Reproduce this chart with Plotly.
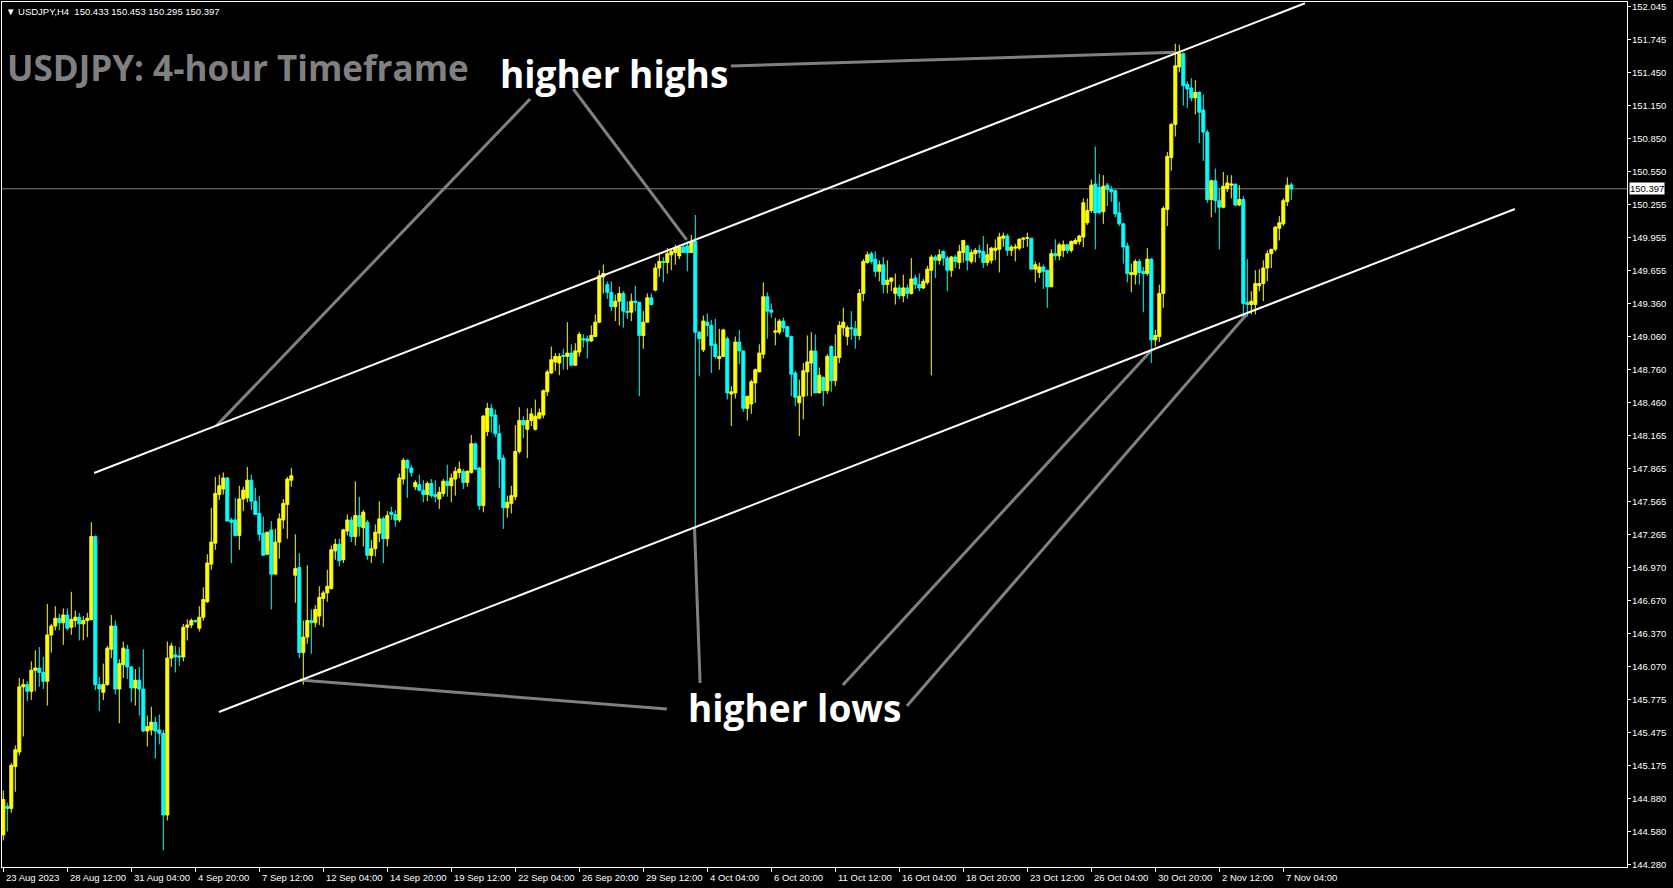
import plotly.graph_objects as go

# ---------------- data (USDJPY H4) ----------------
bar_open = [
 144.55,144.81,144.79,145.17,145.30,145.89,145.91,145.85,146.04,146.06,
 146.02,145.94,146.36,146.44,146.51,146.47,146.54,146.43,146.49,146.52,
 146.46,146.49,146.50,147.25,145.91,145.84,145.91,146.23,146.44,145.87,
 146.09,146.23,146.07,145.88,145.95,145.87,145.49,145.50,145.57,145.50,
 145.47,144.73,146.15,146.18,146.17,146.16,146.43,146.45,146.49,146.42,
 146.52,146.66,147.00,147.19,147.63,147.68,147.78,147.40,147.40,147.26,
 147.59,147.60,147.76,147.57,147.46,147.28,147.09,147.31,146.91,147.20,
 147.40,147.54,147.76,146.90,146.97,146.20,146.34,146.49,146.47,146.53,
 146.69,146.74,146.78,147.12,147.18,147.04,147.30,147.40,147.25,147.44,
 147.33,147.38,147.08,147.14,147.28,147.41,147.23,147.47,147.45,147.40,
 147.77,147.94,147.87,147.70,147.72,147.67,147.63,147.73,147.63,147.59,
 147.64,147.75,147.71,147.77,147.83,147.84,147.74,147.83,148.09,147.87,
 147.53,148.20,148.41,148.35,148.18,147.96,147.51,147.55,147.61,148.02,
 148.30,148.22,148.30,148.22,148.32,148.35,148.56,148.73,148.83,148.82,
 148.89,148.88,148.91,148.80,148.92,149.04,149.04,149.02,149.06,149.19,
 149.60,149.53,149.46,149.33,149.38,149.45,149.29,149.28,149.38,149.37,
 149.07,149.19,149.41,149.48,149.68,149.74,149.73,149.80,149.82,149.79,
 149.87,149.88,149.82,149.92,149.10,148.94,149.19,149.16,148.99,148.86,
 148.88,149.04,148.54,148.55,149.01,148.93,148.41,148.45,148.64,148.74,
 148.90,149.42,149.30,149.10,149.10,149.20,149.15,149.06,148.73,148.46,
 148.52,148.74,148.82,148.93,148.55,148.69,148.57,148.97,148.66,148.87,
 149.14,149.06,149.14,149.13,149.07,149.45,149.73,149.81,149.76,149.65,
 149.71,149.53,149.56,149.45,149.50,149.43,149.50,149.45,149.59,149.53,
 149.50,149.55,149.66,149.78,149.75,149.83,149.77,149.66,149.78,149.73,
 149.82,149.88,149.74,149.81,149.84,149.83,149.73,149.75,149.84,149.85,
 149.95,149.97,149.84,149.86,149.86,149.94,149.95,149.95,149.67,149.64,
 149.69,149.66,149.51,149.81,149.79,149.84,149.89,149.84,149.90,149.92,
 149.96,150.09,150.20,150.44,150.41,150.19,150.43,150.39,150.38,150.18,
 150.08,149.88,149.62,149.62,149.74,149.65,149.63,149.76,149.03,149.06,
 149.45,150.21,150.68,150.98,151.50,151.62,151.34,151.31,151.22,151.27,
 151.11,150.91,150.30,150.47,150.29,150.23,150.40,150.43,150.44,150.25,
 150.30,149.37,149.35,149.35,149.52,149.54,149.68,149.81,149.85,150.04,
 150.08,150.28,150.433]

bar_high = [
 144.95,144.84,145.20,145.36,145.97,145.96,145.94,146.12,146.22,146.25,
 146.16,146.64,146.46,146.62,146.55,146.60,146.60,146.75,146.58,146.56,
 146.53,146.56,147.38,147.26,145.98,146.10,146.26,146.54,146.49,146.14,
 146.30,146.27,146.08,146.05,146.07,146.23,145.63,145.71,145.62,145.64,
 145.50,146.30,146.29,146.26,146.25,146.46,146.50,146.51,146.50,146.62,
 146.79,147.09,147.51,147.79,147.81,147.83,147.79,147.42,147.60,147.71,
 147.70,147.88,147.81,147.69,147.62,147.43,147.29,147.39,147.32,147.46,
 147.59,147.79,147.87,147.27,147.10,146.49,146.99,146.59,146.63,146.80,
 146.76,146.95,147.17,147.23,147.23,147.32,147.45,147.43,147.75,147.61,
 147.49,147.40,147.22,147.36,147.57,147.43,147.48,147.52,147.49,147.82,
 147.96,147.95,147.90,147.76,147.81,147.76,147.75,147.77,147.76,147.70,
 147.77,147.90,147.82,147.88,147.93,147.86,147.85,148.17,148.10,147.88,
 148.35,148.46,148.45,148.40,148.26,147.99,147.62,147.71,148.26,148.42,
 148.34,148.41,148.41,148.49,148.41,148.58,148.76,148.97,148.91,148.91,
 148.95,149.19,148.99,149.00,149.10,149.08,149.07,149.16,149.26,149.66,
 149.71,149.56,149.56,149.44,149.51,149.47,149.38,149.45,149.52,149.37,
 149.29,149.45,149.45,149.72,149.82,149.78,149.86,149.86,149.89,149.89,
 149.89,149.92,149.98,150.16,149.11,149.25,149.27,149.21,149.22,149.13,
 149.13,149.06,148.61,149.06,149.12,148.93,148.52,148.67,148.77,148.99,
 149.55,149.46,149.36,149.23,149.22,149.23,149.15,149.07,148.75,148.67,
 148.82,149.07,149.10,149.08,148.78,148.70,148.90,148.98,149.08,149.20,
 149.32,149.16,149.29,149.20,149.49,149.76,149.83,149.83,149.83,149.75,
 149.78,149.75,149.59,149.63,149.53,149.62,149.53,149.77,149.62,149.63,
 149.58,149.70,149.80,149.80,149.85,149.84,149.79,149.79,149.80,149.89,
 149.93,149.89,149.85,149.86,149.89,149.97,149.90,149.87,149.94,150.00,
 150.00,149.99,149.89,149.90,149.95,149.96,150.00,149.95,149.74,149.73,
 149.71,149.66,149.85,149.94,149.91,149.93,149.90,149.93,149.95,149.98,
 150.31,150.31,150.48,150.78,150.53,150.52,150.45,150.42,150.39,150.28,
 150.09,149.91,149.72,149.76,149.76,149.69,149.86,149.77,149.12,149.53,
 150.24,150.73,150.99,151.71,151.70,151.63,151.37,151.40,151.38,151.28,
 151.25,150.93,150.48,150.58,150.40,150.55,150.52,150.52,150.44,150.43,
 150.33,149.76,149.47,149.66,149.67,149.75,149.84,149.85,150.06,150.15,
 150.31,150.50,150.453]

bar_low = [
 144.50,144.58,144.75,144.94,145.27,145.44,145.76,145.77,145.85,145.89,
 145.87,145.72,146.20,146.40,146.40,146.27,146.40,146.36,146.43,146.31,
 146.31,146.34,146.49,145.86,145.67,145.77,145.90,146.15,145.82,145.56,
 145.97,145.96,145.75,145.72,145.63,145.48,145.35,145.45,145.24,145.37,
 144.41,144.68,146.07,146.02,146.08,146.12,146.31,146.42,146.47,146.39,
 146.49,146.65,146.95,147.13,147.58,147.63,147.39,147.01,147.25,147.13,
 147.48,147.56,147.49,147.45,147.21,147.08,147.08,146.59,146.91,147.05,
 147.32,147.23,147.70,146.65,146.15,145.91,146.28,146.19,146.43,146.45,
 146.43,146.66,146.77,147.04,146.98,147.01,147.26,147.20,147.17,147.25,
 147.16,147.04,147.01,147.07,147.20,147.01,147.16,147.40,147.34,147.38,
 147.72,147.60,147.79,147.67,147.66,147.56,147.57,147.60,147.56,147.50,
 147.61,147.61,147.56,147.62,147.78,147.68,147.70,147.82,147.85,147.49,
 147.47,148.16,148.19,148.15,147.69,147.32,147.42,147.46,147.58,148.00,
 148.14,147.96,148.25,148.21,148.31,148.32,148.52,148.72,148.75,148.71,
 148.76,148.76,148.80,148.80,148.88,148.96,148.86,149.01,149.06,149.18,
 149.45,149.40,149.29,149.20,149.16,149.14,149.22,149.20,149.29,148.52,
 148.95,149.19,149.34,149.47,149.60,149.55,149.63,149.66,149.71,149.76,
 149.82,149.65,149.82,147.30,148.70,148.92,149.06,148.73,148.86,148.76,
 148.88,148.49,148.25,148.50,148.81,148.38,148.30,148.36,148.46,148.74,
 148.86,149.04,149.23,148.98,149.08,149.10,149.05,148.52,148.43,148.16,
 148.31,148.52,148.52,148.55,148.55,148.43,148.54,148.56,148.61,148.82,
 149.07,148.98,149.03,148.95,149.03,149.38,149.72,149.72,149.60,149.56,
 149.45,149.45,149.47,149.35,149.40,149.37,149.40,149.44,149.49,149.47,
 149.49,149.53,148.71,149.59,149.71,149.70,149.47,149.60,149.68,149.67,
 149.73,149.66,149.72,149.73,149.77,149.68,149.70,149.72,149.75,149.64,
 149.87,149.79,149.79,149.74,149.84,149.86,149.87,149.67,149.55,149.59,
 149.49,149.32,149.51,149.75,149.75,149.78,149.81,149.82,149.90,149.89,
 149.87,150.07,150.18,149.85,150.17,150.08,150.24,150.28,150.14,150.06,
 149.72,149.55,149.46,149.53,149.53,149.28,149.61,148.82,148.97,149.01,
 149.32,150.06,150.56,150.87,151.45,151.15,151.13,151.19,151.07,150.81,
 150.65,150.27,150.14,150.18,149.85,150.22,150.37,150.31,150.24,150.24,
 149.23,149.24,149.26,149.26,149.47,149.38,149.56,149.68,149.83,149.93,
 150.06,150.24,150.295]

bar_close = [
 144.87,144.79,145.18,145.32,145.89,145.91,145.85,146.04,146.06,146.02,
 145.94,146.36,146.44,146.51,146.47,146.54,146.42,146.50,146.52,146.46,
 146.49,146.51,147.25,145.91,145.87,145.91,146.24,146.44,145.87,146.10,
 146.24,146.07,145.88,145.95,145.87,145.49,145.53,145.57,145.49,145.47,
 144.73,146.15,146.26,146.16,146.16,146.43,146.45,146.49,146.48,146.52,
 146.68,147.01,147.20,147.64,147.71,147.78,147.39,147.38,147.26,147.59,
 147.67,147.76,147.57,147.45,147.27,147.08,147.29,146.91,147.20,147.41,
 147.55,147.77,147.80,146.96,146.20,146.34,146.49,146.47,146.59,146.70,
 146.74,146.80,147.13,147.18,147.03,147.31,147.40,147.25,147.44,147.34,
 147.47,147.08,147.14,147.29,147.41,147.23,147.44,147.45,147.40,147.78,
 147.94,147.87,147.83,147.74,147.67,147.63,147.73,147.62,147.61,147.65,
 147.75,147.71,147.78,147.84,147.86,147.74,147.84,148.09,147.86,147.53,
 148.34,148.41,148.34,148.18,147.95,147.51,147.56,147.62,148.02,148.30,
 148.26,148.30,148.36,148.34,148.37,148.57,148.74,148.85,148.88,148.88,
 148.88,148.91,148.80,148.93,149.08,149.03,149.02,149.07,149.19,149.61,
 149.63,149.46,149.33,149.38,149.45,149.29,149.28,149.38,149.37,149.07,
 149.19,149.41,149.35,149.68,149.74,149.73,149.81,149.83,149.86,149.87,
 149.82,149.82,149.92,149.10,149.04,149.20,149.16,148.98,148.88,148.88,
 149.12,148.55,148.56,149.01,148.93,148.41,148.52,148.65,148.76,148.91,
 149.42,149.29,149.28,149.11,149.20,149.14,149.06,148.72,148.51,148.52,
 148.75,148.83,148.93,148.55,148.71,148.57,148.88,148.66,148.88,149.16,
 149.19,149.14,149.13,149.07,149.45,149.74,149.80,149.74,149.65,149.71,
 149.53,149.57,149.59,149.50,149.43,149.50,149.45,149.58,149.53,149.50,
 149.56,149.67,149.78,149.75,149.80,149.77,149.66,149.78,149.74,149.83,
 149.93,149.75,149.82,149.84,149.82,149.73,149.80,149.86,149.86,149.96,
 149.97,149.84,149.87,149.87,149.94,149.95,149.955,149.67,149.71,149.69,
 149.65,149.51,149.81,149.79,149.89,149.89,149.84,149.92,149.93,149.97,
 150.27,150.20,150.43,150.18,150.18,150.42,150.39,150.37,150.17,150.08,
 149.87,149.63,149.64,149.74,149.64,149.63,149.76,149.03,149.07,149.45,
 150.22,150.69,150.98,151.51,151.62,151.33,151.30,151.22,151.27,151.09,
 150.91,150.30,150.47,150.29,150.23,150.42,150.45,150.44,150.25,150.30,
 149.36,149.35,149.38,149.54,149.54,149.68,149.81,149.85,150.05,150.09,
 150.29,150.43,150.397]

tick_bars = [0, 16, 32, 48, 64, 80, 96, 112, 128, 144, 160, 176, 192,
             208, 224, 240, 256, 272, 288, 304, 320]
tick_labels = ["23 Aug 2023", "28 Aug 12:00", "31 Aug 04:00", "4 Sep 20:00",
               "7 Sep 12:00", "12 Sep 04:00", "14 Sep 20:00", "19 Sep 12:00",
               "22 Sep 04:00", "26 Sep 20:00", "29 Sep 12:00", "4 Oct 04:00",
               "6 Oct 20:00", "11 Oct 12:00", "16 Oct 04:00", "18 Oct 20:00",
               "23 Oct 12:00", "26 Oct 04:00", "30 Oct 20:00", "2 Nov 12:00",
               "7 Nov 04:00"]

price_ticks = [152.045, 151.745, 151.450, 151.150, 150.850, 150.550, 150.255,
               149.955, 149.655, 149.360, 149.060, 148.760, 148.460, 148.165,
               147.865, 147.565, 147.265, 146.970, 146.670, 146.370, 146.070,
               145.775, 145.475, 145.175, 144.880, 144.580, 144.280]
price_tick_labels = ["%.3f" % v for v in price_ticks]

last_price = 150.397
header_text = "\u25bc USDJPY,H4  150.433 150.453 150.295 150.397"

# ---------------- figure ----------------
n = len(bar_close)
bar_index = list(range(n))
hi = [max(h, o, c) for h, o, c in zip(bar_high, bar_open, bar_close)]
lo = [min(l, o, c) for l, o, c in zip(bar_low, bar_open, bar_close)]

YELLOW = "#ffff00"
CYAN = "#00ffff"
WHITE = "#ffffff"
GREY = "#808080"

fig = go.Figure()
fig.add_trace(go.Candlestick(
    x=bar_index, open=bar_open, high=hi, low=lo, close=bar_close,
    increasing=dict(line=dict(color=YELLOW, width=1), fillcolor=YELLOW),
    decreasing=dict(line=dict(color=CYAN, width=1), fillcolor=CYAN),
    whiskerwidth=0, hoverinfo="skip", showlegend=False,
))

# channel + annotation lines (bar index, price)
channel_lines = [
    ((22.7, 147.825), (325.4, 152.076)),   # upper channel
    ((53.9, 145.662), (377.9, 150.214)),   # lower channel
]
pointer_lines = [
    ((131.7, 151.210), (53.2, 148.250)),
    ((142.5, 151.300), (170.85, 149.934)),
    ((181.9, 151.508), (293.35, 151.632)),
    ((165.9, 145.689), (74.2, 145.952)),
    ((174.2, 145.925), (172.8, 147.336)),
    ((209.9, 145.907), (287.1, 148.938)),
    ((225.9, 145.717), (310.7, 149.255)),
]
shapes = []
shapes.append(dict(type="line", xref="paper", yref="y", x0=0, x1=1,
                   y0=last_price, y1=last_price,
                   line=dict(color="#8f8070", width=1), layer="below"))
for (a, b) in pointer_lines:
    shapes.append(dict(type="line", xref="x", yref="y", x0=a[0], y0=a[1],
                       x1=b[0], y1=b[1], line=dict(color=GREY, width=3)))
for (a, b) in channel_lines:
    shapes.append(dict(type="line", xref="x", yref="y", x0=a[0], y0=a[1],
                       x1=b[0], y1=b[1], line=dict(color=WHITE, width=2)))

W, H = 1673, 888
ML, MR, MT, MB = 2, 46, 2, 21
PW, PH = W - ML - MR, H - MT - MB


def px(xp):
    return (xp - ML) / PW


def py(yp):
    return 1 - (yp - MT) / PH


AXFAM = "Liberation Sans, Arial, sans-serif"
AXFONT = dict(family=AXFAM, size=9.5, color=WHITE)
LABFONT = "Open Sans, Lato, sans-serif"

annotations = [
    dict(text=header_text, xref="paper", yref="paper", x=px(3.5), y=py(12),
         xanchor="left", yanchor="middle", showarrow=False, font=AXFONT),
    dict(text="<b>USDJPY: 4-hour Timeframe</b>", xref="paper", yref="paper",
         x=px(5), y=py(67), xanchor="left", yanchor="middle", showarrow=False,
         font=dict(family=LABFONT, size=35, color=GREY)),
    dict(text="<b>higher highs</b>", xref="paper", yref="paper",
         x=px(614), y=py(74), xanchor="center", yanchor="middle", showarrow=False,
         font=dict(family=LABFONT, size=37, color=WHITE)),
    dict(text="<b>higher lows</b>", xref="paper", yref="paper",
         x=px(794), y=py(707), xanchor="center", yanchor="middle", showarrow=False,
         font=dict(family=LABFONT, size=37, color=WHITE)),
]

# price scale labels (right side)
for val, txt in zip(price_ticks, price_tick_labels):
    annotations.append(dict(text=txt, xref="paper", yref="y", x=1, y=val,
                            xanchor="left", yanchor="middle", xshift=3,
                            showarrow=False, font=AXFONT))
# time scale labels (left-aligned at their tick)
for b, txt in zip(tick_bars, tick_labels):
    annotations.append(dict(text=txt, xref="x", yref="paper", x=b, y=py(877),
                            xanchor="left", yanchor="middle", xshift=1,
                            showarrow=False, font=AXFONT))
# current price box
annotations.append(dict(text=f"{last_price:.3f}", xref="paper", yref="y", x=1,
                        y=last_price, xanchor="left", yanchor="middle", xshift=2,
                        showarrow=False, bgcolor=WHITE, borderpad=0,
                        font=dict(family=AXFAM, size=9.5, color="#000000")))

fig.update_layout(
    width=W, height=H,
    margin=dict(l=ML, r=MR, t=MT, b=MB, pad=0, autoexpand=False),
    paper_bgcolor="#000000", plot_bgcolor="#000000",
    boxgap=0.25, boxgroupgap=0,
    shapes=shapes, annotations=annotations,
    showlegend=False,
    xaxis=dict(
        range=[-0.325, 405.925], rangeslider=dict(visible=False),
        tickmode="array", tickvals=tick_bars, showticklabels=False,
        ticks="outside", ticklen=4, tickcolor=WHITE, tickwidth=1,
        automargin=False, showgrid=False, zeroline=False,
        showline=True, linecolor=WHITE, linewidth=1, mirror=True,
        fixedrange=True,
    ),
    yaxis=dict(
        range=[144.2596, 152.0875], side="right", automargin=False,
        tickmode="array", tickvals=price_ticks, showticklabels=False,
        ticks="outside", ticklen=3, tickcolor=WHITE, tickwidth=1,
        showgrid=False, zeroline=False,
        showline=True, linecolor=WHITE, linewidth=1, mirror=True,
        fixedrange=True,
    ),
)

fig.write_html(
    "out.html",
    config={"displayModeBar": False},
    post_script="document.body.style.margin='0';document.body.style.padding='0';"
                "document.body.style.background='#000';",
)
